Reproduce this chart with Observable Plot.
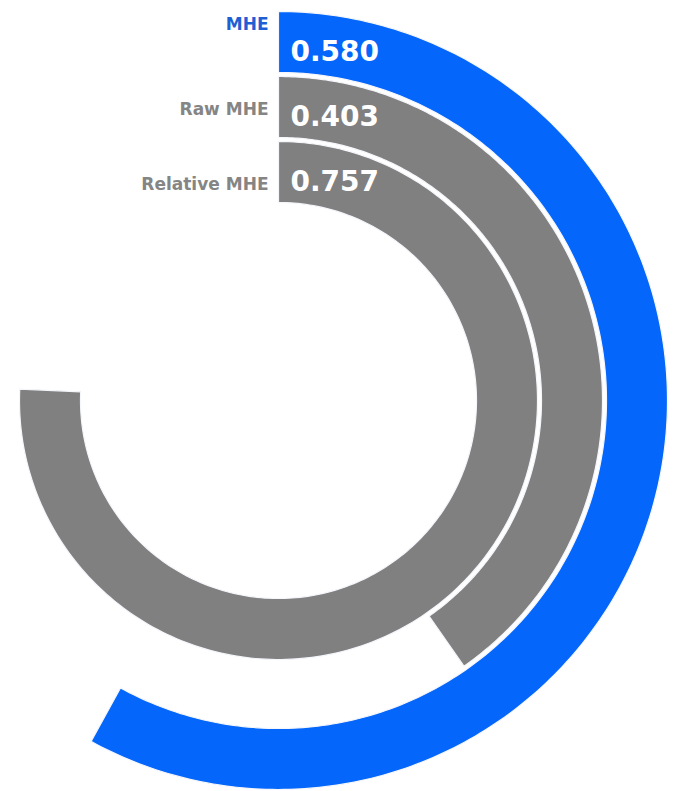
<!DOCTYPE html>
<html>
<head>
<meta charset="utf-8">
<script src="https://cdn.jsdelivr.net/npm/d3@7"></script>
<script src="https://cdn.jsdelivr.net/npm/@observablehq/plot@0.6"></script>
<style>
  html, body { margin: 0; padding: 0; background: #fff; overflow: hidden; }
  #chart svg { display: block; }
</style>
</head>
<body>
<div id="chart"></div>
<script>
// Data
const labels = ["MHE", "Raw MHE", "Relative MHE"];
const values = [0.580, 0.403, 0.757];
const fills = ["#0466fb", "#808080", "#808080"];
const labelColors = ["#1f5fd4", "#858585", "#858585"];
const labelDy = [-17, 3, 13];

// Geometry of the bands (in scale units = pixels)
const outerR = 389, band = 65, thickness = 61;
const rows = labels.map((label, i) => ({
  label, value: values[i], i,
  r1: outerR - i * band,
  r0: outerR - i * band - thickness
}));

function arcPolygon(d) {
  const a1 = d.value * 2 * Math.PI;
  const n = 240;
  const pts = [];
  for (let k = 0; k <= n; k++) {
    const a = a1 * k / n;
    pts.push({x: d.r1 * Math.sin(a), y: d.r1 * Math.cos(a)});
  }
  for (let k = n; k >= 0; k--) {
    const a = a1 * k / n;
    pts.push({x: d.r0 * Math.sin(a), y: d.r0 * Math.cos(a)});
  }
  pts.push(pts[0]);
  return pts;
}

const arcMarks = rows.map(d => Plot.line(arcPolygon(d), {
  x: "x", y: "y", fill: fills[d.i], stroke: "#f4f6fb", strokeWidth: 1.2, curve: "linear"
}));

const chart = Plot.plot({
  width: 675,
  height: 791,
  margin: 0,
  x: {type: "linear", domain: [-278, 397], range: [0, 675], axis: null},
  y: {type: "linear", domain: [-391, 400], range: [791, 0], axis: null},
  style: {fontFamily: "'DejaVu Sans', Verdana, sans-serif", background: "#fff"},
  marks: [
    ...arcMarks,
    Plot.text(rows, {
      x: () => 0, y: d => d.r1, text: d => d.value.toFixed(3),
      dx: 12, dy: 41, textAnchor: "start", fill: "white",
      fontSize: 28, fontWeight: "bold"
    }),
    ...rows.map(d => Plot.text([d], {
      x: () => 0, y: d => (d.r1 + d.r0) / 2, text: "label",
      dx: -10, dy: labelDy[d.i], textAnchor: "end", fill: labelColors[d.i],
      fontSize: 17, fontWeight: "bold"
    }))
  ]
});
document.getElementById("chart").append(chart);
</script>
</body>
</html>
